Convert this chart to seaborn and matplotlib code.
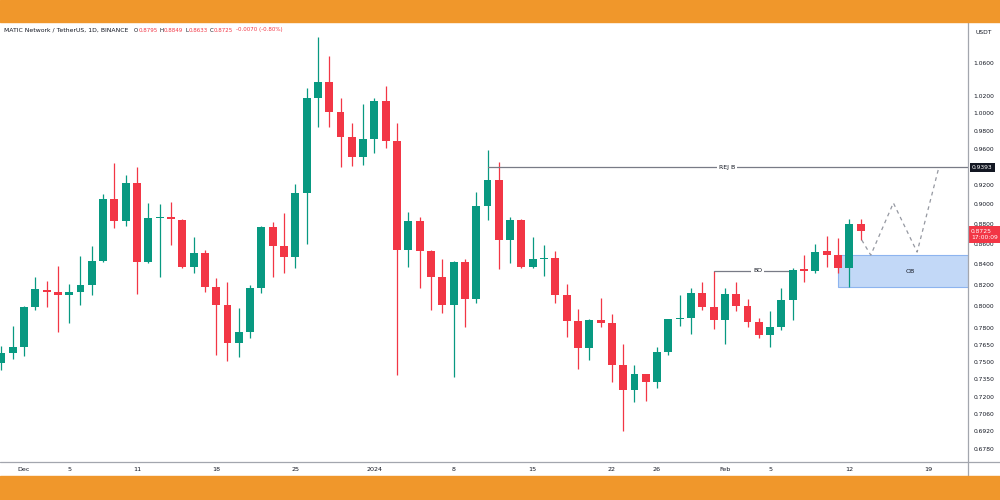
import numpy as np
import pandas as pd
import matplotlib
matplotlib.use("Agg")
import matplotlib.pyplot as plt
import seaborn as sns
from matplotlib.patches import Rectangle
from matplotlib.lines import Line2D
from matplotlib.ticker import FixedLocator, FixedFormatter, NullLocator, NullFormatter

# ---------------- data ----------------
dates = pd.date_range("2023-11-29", "2024-02-13", freq="D")

opens = [0.7490, 0.7577, 0.7631, 0.7992, 0.8151, 0.8132, 0.8103, 0.8132, 0.8198, 0.8425,
         0.9056, 0.8829, 0.9226, 0.8420, 0.8859, 0.8869, 0.8839, 0.8371, 0.8507, 0.8179,
         0.8010, 0.7666, 0.7760, 0.8170, 0.8767, 0.8577, 0.8468, 0.9119, 1.0177, 1.0367,
         1.0015, 0.9731, 0.9507, 0.9707, 1.0143, 0.9684, 0.8537, 0.8829, 0.8527, 0.8274,
         0.8010, 0.8419, 0.8066, 0.8983, 0.9258, 0.8637, 0.8839, 0.8371, 0.8449, 0.8459,
         0.8103, 0.7863, 0.7622, 0.7872, 0.7845, 0.7473, 0.7260, 0.7394, 0.7327, 0.7586,
         0.7881, 0.7890, 0.8122, 0.7992, 0.7872, 0.8113, 0.8001, 0.7854, 0.7737, 0.7809,
         0.8057, 0.8352, 0.8332, 0.8527, 0.8487, 0.8361, 0.8795]
highs = [0.7639, 0.7818, 0.8000, 0.8274, 0.8236, 0.8381, 0.8208, 0.8478, 0.8577, 0.9108,
         0.9439, 0.9310, 0.9396, 0.9015, 0.9004, 0.9025, 0.8845, 0.8667, 0.8537, 0.8265,
         0.8227, 0.7982, 0.8198, 0.8775, 0.8818, 0.8910, 0.9215, 1.0293, 1.0919, 1.0686,
         1.0177, 0.9888, 1.0108, 1.0177, 1.0316, 0.9888, 0.8921, 0.8869, 0.8535, 0.8449,
         0.8429, 0.8449, 0.9130, 0.9584, 0.9450, 0.8869, 0.8845, 0.8667, 0.8587, 0.8527,
         0.8208, 0.7973, 0.7881, 0.8075, 0.7927, 0.7657, 0.7473, 0.7400, 0.7631, 0.7885,
         0.8103, 0.8170, 0.8227, 0.8332, 0.8170, 0.8227, 0.8066, 0.7890, 0.7955, 0.8170,
         0.8361, 0.8487, 0.8597, 0.8677, 0.8657, 0.8849, 0.8849]
lows = [0.7430, 0.7525, 0.7551, 0.7964, 0.7992, 0.7764, 0.7845, 0.8010, 0.8103, 0.8420,
        0.8757, 0.8778, 0.8113, 0.8410, 0.8274, 0.8587, 0.8365, 0.8313, 0.8132, 0.7560,
        0.7508, 0.7543, 0.7710, 0.8122, 0.8274, 0.8313, 0.8361, 0.8597, 0.9841, 0.9841,
        0.9393, 0.9404, 0.9415, 0.9551, 0.9607, 0.7387, 0.8371, 0.8170, 0.7964, 0.7937,
        0.7370, 0.7809, 0.8029, 0.8839, 0.8351, 0.8410, 0.8365, 0.8365, 0.8284, 0.8029,
        0.7719, 0.7438, 0.7517, 0.7809, 0.7327, 0.6923, 0.7160, 0.7168, 0.7276, 0.7560,
        0.7818, 0.7746, 0.7964, 0.7791, 0.7657, 0.7955, 0.7809, 0.7710, 0.7631, 0.7782,
        0.7872, 0.8227, 0.8313, 0.8371, 0.8313, 0.8179, 0.8633]
closes = [0.7577, 0.7631, 0.7992, 0.8160, 0.8132, 0.8103, 0.8132, 0.8198, 0.8429, 0.9056,
          0.8829, 0.9226, 0.8420, 0.8859, 0.8869, 0.8849, 0.8371, 0.8507, 0.8179, 0.8010,
          0.7666, 0.7764, 0.8170, 0.8767, 0.8577, 0.8468, 0.9119, 1.0177, 1.0367, 1.0015,
          0.9731, 0.9507, 0.9707, 1.0143, 0.9684, 0.8537, 0.8829, 0.8527, 0.8274, 0.8010,
          0.8419, 0.8066, 0.8983, 0.9258, 0.8637, 0.8839, 0.8371, 0.8449, 0.8459, 0.8103,
          0.7863, 0.7622, 0.7872, 0.7845, 0.7473, 0.7260, 0.7394, 0.7327, 0.7586, 0.7881,
          0.7890, 0.8122, 0.7992, 0.7872, 0.8113, 0.8001, 0.7854, 0.7737, 0.7809, 0.8057,
          0.8342, 0.8332, 0.8517, 0.8487, 0.8361, 0.8798, 0.8725]

tick_dates = ["2023-12-01", "2023-12-05", "2023-12-11", "2023-12-18", "2023-12-25",
              "2024-01-01", "2024-01-08", "2024-01-15", "2024-01-22", "2024-01-26",
              "2024-02-01", "2024-02-05", "2024-02-12", "2024-02-19"]
tick_labels = ["Dec", "5", "11", "18", "25", "2024", "8", "15", "22", "26",
               "Feb", "5", "12", "19"]
y_ticks = [1.06, 1.02, 1.00, 0.98, 0.96, 0.92, 0.90, 0.88, 0.86, 0.84, 0.82, 0.80,
           0.78, 0.765, 0.75, 0.735, 0.72, 0.706, 0.692, 0.678]

rej_level, rej_start, rej_label = 0.9393, "2024-01-11", "REJ B"
bo_level, bo_start, bo_end, bo_label = 0.8335, "2024-01-31", "2024-02-07", "BO"
ob_low, ob_high, ob_start, ob_label = 0.8179, 0.8487, "2024-02-11", "OB"
proj_days = [76.1, 76.9, 78.9, 81.0, 82.9]          # days after first candle
proj_prices = [0.8637, 0.8487, 0.9015, 0.8517, 0.9383]

header_parts = [("MATIC Network / TetherUS, 1D, BINANCE", "dark"), ("O", "dark"), ("0.8795", "red"),
                ("H", "dark"), ("0.8849", "red"), ("L", "dark"), ("0.8633", "red"),
                ("C", "dark"), ("0.8725", "red"), ("-0.0070 (-0.80%)", "red")]
last_close, countdown = 0.8725, "17:00:09"

# ---------------- style ----------------
GREEN = "#089981"
RED = "#F23645"
DARK = "#131722"
ORANGE = "#F0972B"
AXLINE = "#a3a6ae"

sns.set_theme(style="white")
plt.rcParams["font.family"] = ["DejaVu Sans"]

df = pd.DataFrame({"date": dates, "open": opens, "high": highs, "low": lows, "close": closes})
df["x"] = (df["date"] - dates[0]).dt.days
df["up"] = df["close"] >= df["open"]
df["color"] = np.where(df["up"], GREEN, RED)
df["body_bottom"] = df[["open", "close"]].min(axis=1)
df["body_h"] = np.maximum((df["close"] - df["open"]).abs(), 0.0011)

def dpos(s):
    return (pd.Timestamp(s) - dates[0]).days

fig = plt.figure(figsize=(10, 5), dpi=100)
fig.patch.set_facecolor("white")
ax = fig.add_axes([0.0, 0.076, 0.968, 0.88])
ax.set_facecolor("white")

ax.set_yscale("log")
ax.set_ylim(0.668, 1.1115)
ax.set_xlim(-0.12, 85.5)

# OB zone
ax.add_patch(Rectangle((dpos(ob_start), ob_low), 30, ob_high - ob_low,
                       facecolor="#c2d8f7", edgecolor="#8db4ef", lw=0.8, zorder=1))
ax.text(80.4, np.sqrt(ob_low * ob_high), ob_label, fontsize=4.5, color=DARK,
        ha="center", va="center", zorder=4)

# candles
ax.vlines(df["x"], df["low"], df["high"], colors=df["color"], lw=0.9, zorder=2)
ax.bar(df["x"], df["body_h"], bottom=df["body_bottom"], width=0.7,
       color=df["color"], linewidth=0, zorder=3)

# levels
sns.lineplot(x=[dpos(rej_start), 90], y=[rej_level, rej_level], ax=ax,
             color="#787b86", lw=0.9, estimator=None, zorder=2)
ax.text(64.2, rej_level, rej_label, fontsize=4.5, color=DARK, ha="center", va="center",
        zorder=4, bbox=dict(boxstyle="square,pad=0.35", fc="white", ec="none"))
sns.lineplot(x=[dpos(bo_start), dpos(bo_end)], y=[bo_level, bo_level], ax=ax,
             color="#787b86", lw=0.9, estimator=None, zorder=2)
ax.text(66.9, bo_level, bo_label, fontsize=4.5, color=DARK, ha="center", va="center",
        zorder=4, bbox=dict(boxstyle="square,pad=0.35", fc="white", ec="none"))

# projected path
sns.lineplot(x=proj_days, y=proj_prices, ax=ax, color="#9598a1", lw=0.9,
             linestyle=(0, (3, 3)), estimator=None, sort=False, zorder=2)

if ax.get_legend():
    ax.get_legend().remove()

# axes / ticks
for s in ax.spines.values():
    s.set_visible(False)
ax.yaxis.tick_right()
ax.yaxis.set_major_locator(FixedLocator(y_ticks))
ax.yaxis.set_major_formatter(FixedFormatter([f"{v:.4f}" for v in y_ticks]))
ax.yaxis.set_minor_locator(NullLocator())
ax.yaxis.set_minor_formatter(NullFormatter())
ax.tick_params(axis="y", length=0, pad=4, labelsize=4.3, colors=DARK)
ax.set_xticks([dpos(d) for d in tick_dates])
ax.set_xticklabels(tick_labels)
ax.tick_params(axis="x", length=0, pad=3.5, labelsize=4.6, colors=DARK)
ax.grid(False)
ax.set_xlabel("")
ax.set_ylabel("")

# price labels on the scale
ax.text(1.004, rej_level, f"{rej_level:.4f}", transform=ax.get_yaxis_transform(),
        ha="left", va="center", fontsize=4.3, color="white", clip_on=False, zorder=6,
        bbox=dict(boxstyle="square,pad=0.35", fc=DARK, ec="none"))
ax.text(1.003, last_close * 1.002, f"{last_close:.4f}\n{countdown}", transform=ax.get_yaxis_transform(),
        ha="left", va="top", fontsize=4.3, color="white", clip_on=False, zorder=6,
        linespacing=1.25,
        bbox=dict(boxstyle="square,pad=0.5", fc=RED, ec="none"))

# frame lines
fig.add_artist(Line2D([0, 1], [0.076, 0.076], transform=fig.transFigure, color=AXLINE, lw=0.9))
fig.add_artist(Line2D([0.968, 0.968], [0.048, 0.956], transform=fig.transFigure, color=AXLINE, lw=0.9))

# orange bands
fig.add_artist(Rectangle((0, 0.956), 1, 0.044, transform=fig.transFigure, color=ORANGE, zorder=10))
fig.add_artist(Rectangle((0, 0.0), 1, 0.048, transform=fig.transFigure, color=ORANGE, zorder=10))

fig.text(0.975, 1 - 32 / 500, "USDT", fontsize=4.3, color=DARK, va="center", ha="left")

# header
cols = {"dark": DARK, "red": RED}
prev = fig.text(0.004, 1 - 30 / 500, header_parts[0][0], fontsize=4.4,
                color=cols[header_parts[0][1]], va="center", ha="left")
for i, (txt, c) in enumerate(header_parts[1:], start=1):
    if i == 1:
        gap = 4.0
    elif header_parts[i - 1][1] == "red":
        gap = 1.6
    else:
        gap = 0.1
    prev = ax.annotate(txt, xy=(1, 0), xycoords=prev, xytext=(gap, 0),
                       textcoords="offset points", fontsize=3.95, color=cols[c],
                       va="bottom", ha="left", annotation_clip=False)

fig.savefig("out.png", dpi=100, facecolor="white")
